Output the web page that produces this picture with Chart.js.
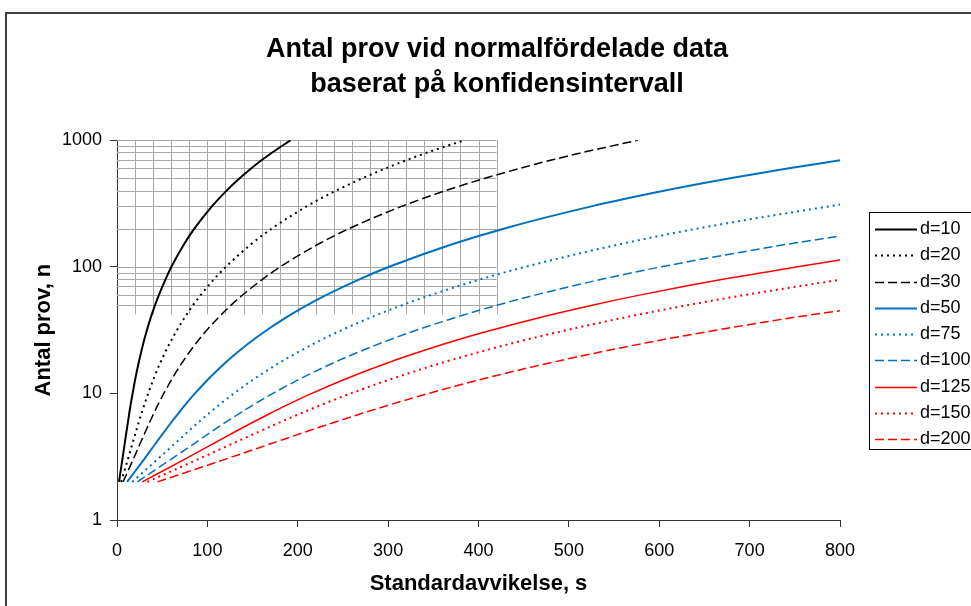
<!DOCTYPE html>
<html lang="sv">
<head>
<meta charset="UTF-8">
<title>Antal prov vid normalfördelade data</title>
<script src="https://cdn.jsdelivr.net/npm/chart.js"></script>
<style>
  html, body { margin: 0; padding: 0; background: #fff; overflow: hidden; }
  #ram { position: absolute; left: 5px; top: 12px; width: 1200px; height: 800px; border: 2px solid #404040; box-sizing: border-box; }
  #diagram { position: absolute; left: 0; top: 0; }
</style>
</head>
<body>
<div id="ram"></div>
<canvas id="diagram" width="994" height="606"></canvas>
<script>
// standardavvikelse s (x) och antal prov n (y) för varje d
const sD10  = [2.2, 5.9, 8.5, 10.5, 12.2, 13.6, 14.9, 17.3, 20.2, 23.6, 25.9, 29.2, 32.2, 37.5, 42.2, 46.4, 53.8, 60.2, 74.0, 85.6, 105.0, 121.3, 135.7, 148.7, 160.6, 171.8, 192.1];
const nD10  = [2, 3, 4, 5, 6, 7, 8, 10, 13, 17, 20, 25, 30, 40, 50, 60, 80, 100, 150, 200, 300, 400, 500, 600, 700, 800, 1000];
const sD20  = [4.5, 11.9, 17.0, 21.0, 24.3, 27.2, 29.9, 34.5, 40.5, 47.2, 51.7, 58.4, 64.5, 75.1, 84.3, 92.7, 107.5, 120.5, 148.0, 171.1, 209.9, 242.6, 271.4, 297.4, 321.3, 343.5, 384.2];
const nD20  = [2, 3, 4, 5, 6, 7, 8, 10, 13, 17, 20, 25, 30, 40, 50, 60, 80, 100, 150, 200, 300, 400, 500, 600, 700, 800, 1000];
const sD30  = [6.7, 17.8, 25.5, 31.5, 36.5, 40.9, 44.8, 51.8, 60.7, 70.9, 77.6, 87.7, 96.7, 112.6, 126.5, 139.1, 161.3, 180.7, 222.0, 256.7, 314.9, 363.9, 407.0, 446.1, 481.9, 515.3, 576.4];
const nD30  = [2, 3, 4, 5, 6, 7, 8, 10, 13, 17, 20, 25, 30, 40, 50, 60, 80, 100, 150, 200, 300, 400, 500, 600, 700, 800, 1000];
const sD50  = [11.2, 29.7, 42.5, 52.5, 60.8, 68.1, 74.7, 86.3, 101.2, 118.1, 129.4, 146.1, 161.2, 187.7, 210.9, 231.8, 268.8, 301.2, 370.0, 427.8, 524.9, 606.5, 678.4, 743.5, 800];
const nD50  = [2, 3, 4, 5, 6, 7, 8, 10, 13, 17, 20, 25, 30, 40, 50, 60, 80, 100, 150, 200, 300, 400, 500, 600, 694];
const sD75  = [16.8, 44.5, 63.8, 78.7, 91.2, 102.2, 112.0, 129.4, 151.7, 177.2, 194.0, 219.2, 241.8, 281.6, 316.3, 347.7, 403.1, 451.8, 555.0, 641.6, 787.3, 800];
const nD75  = [2, 3, 4, 5, 6, 7, 8, 10, 13, 17, 20, 25, 30, 40, 50, 60, 80, 100, 150, 200, 300, 310];
const sD100 = [22.4, 59.3, 85.0, 104.9, 121.6, 136.2, 149.3, 172.5, 202.3, 236.2, 258.7, 292.2, 322.4, 375.4, 421.7, 463.6, 537.5, 602.4, 740.0, 800];
const nD100 = [2, 3, 4, 5, 6, 7, 8, 10, 13, 17, 20, 25, 30, 40, 50, 60, 80, 100, 150, 175];
const sD125 = [28.0, 74.1, 106.3, 131.1, 152.0, 170.3, 186.6, 215.6, 252.9, 295.3, 323.4, 365.3, 403.0, 469.3, 527.1, 579.5, 671.9, 753.0, 800];
const nD125 = [2, 3, 4, 5, 6, 7, 8, 10, 13, 17, 20, 25, 30, 40, 50, 60, 80, 100, 113];
const sD150 = [33.6, 89.0, 127.5, 157.4, 182.4, 204.3, 224.0, 258.8, 303.5, 354.3, 388.1, 438.3, 483.6, 563.1, 632.6, 695.4, 800];
const nD150 = [2, 3, 4, 5, 6, 7, 8, 10, 13, 17, 20, 25, 30, 40, 50, 60, 79];
const sD200 = [44.8, 118.6, 170.0, 209.8, 243.2, 272.4, 298.6, 345.0, 404.6, 472.4, 517.4, 584.4, 644.8, 750.8, 800];
const nD200 = [2, 3, 4, 5, 6, 7, 8, 10, 13, 17, 20, 25, 30, 40, 45];

// axlar
const xTicks = [0, 100, 200, 300, 400, 500, 600, 700, 800];
const yTicks = [1, 10, 100, 1000];
const yTickLabels = ['1', '10', '100', '1000'];

// det gråa rutnätet uppe till vänster
const rutS = [20, 40, 60, 80, 100, 120, 140, 160, 180, 200, 220, 240, 260, 280, 300, 320, 340, 360, 380, 400, 420];
const rutN = [50, 60, 70, 80, 90, 100, 200, 300, 400, 500, 600, 700, 800, 900, 1000];
const rutNMin = 42;

const FONT = "'Liberation Sans', Arial, sans-serif";
Chart.defaults.font.family = FONT;
Chart.defaults.color = '#000';

const SVART = '#000000', BLA = '#0070C0', ROD = '#FF0000';
const HEL = [], PRICK = [2, 4], STRECK = [9, 4];

const serier = [
  { label: 'd=10',  s: sD10,  n: nD10,  color: SVART, dash: HEL,    width: 2 },
  { label: 'd=20',  s: sD20,  n: nD20,  color: SVART, dash: PRICK,  width: 2 },
  { label: 'd=30',  s: sD30,  n: nD30,  color: SVART, dash: STRECK, width: 1.5 },
  { label: 'd=50',  s: sD50,  n: nD50,  color: BLA,   dash: HEL,    width: 2 },
  { label: 'd=75',  s: sD75,  n: nD75,  color: BLA,   dash: PRICK,  width: 2 },
  { label: 'd=100', s: sD100, n: nD100, color: BLA,   dash: STRECK, width: 1.5 },
  { label: 'd=125', s: sD125, n: nD125, color: ROD,   dash: HEL,    width: 1.5 },
  { label: 'd=150', s: sD150, n: nD150, color: ROD,   dash: PRICK,  width: 2 },
  { label: 'd=200', s: sD200, n: nD200, color: ROD,   dash: STRECK, width: 1.5 }
];

const datasets = serier.map(r => ({
  label: r.label,
  data: r.s.map((s, i) => ({ x: s, y: r.n[i] })),
  borderColor: r.color,
  borderDash: r.dash,
  borderWidth: r.width,
  pointRadius: 0,
  fill: false,
  cubicInterpolationMode: 'monotone'
}));

const rutnat = {
  id: 'rutnat',
  beforeDatasetsDraw(chart) {
    const { ctx, scales: { x, y } } = chart;
    const x0 = x.getPixelForValue(0);
    const x1 = x.getPixelForValue(rutS[rutS.length - 1]);
    const y0 = y.getPixelForValue(rutN[rutN.length - 1]);
    const y1 = y.getPixelForValue(rutNMin);
    ctx.save();
    ctx.lineWidth = 1;
    ctx.strokeStyle = '#a8a8a8';
    ctx.beginPath();
    rutN.forEach(n => {
      const py = Math.round(y.getPixelForValue(n)) + 0.5;
      ctx.moveTo(x0, py);
      ctx.lineTo(x1, py);
    });
    rutS.forEach(s => {
      const px = Math.round(x.getPixelForValue(s)) + 0.5;
      ctx.moveTo(px, y0);
      ctx.lineTo(px, y1);
    });
    ctx.stroke();
    ctx.restore();
  }
};

// teckenförklaring med ram, linjeprov och text
const forklaring = {
  id: 'forklaring',
  afterDraw(chart) {
    const { ctx, chartArea } = chart;
    const left = chartArea.right + 29, top = 212, rad = 26.25;
    ctx.save();
    ctx.strokeStyle = '#000';
    ctx.lineWidth = 1;
    ctx.strokeRect(left + 0.5, top + 0.5, 200, 237);
    ctx.font = '18px ' + FONT;
    ctx.fillStyle = '#000';
    ctx.textBaseline = 'middle';
    chart.data.datasets.forEach((ds, i) => {
      const cy = Math.round(top + 17 + i * rad) + 0.5;
      ctx.beginPath();
      ctx.setLineDash(ds.borderDash);
      ctx.strokeStyle = ds.borderColor;
      ctx.lineWidth = ds.borderWidth;
      ctx.moveTo(left + 6, cy);
      ctx.lineTo(left + 48, cy);
      ctx.stroke();
      ctx.setLineDash([]);
      ctx.fillText(ds.label, left + 51, cy);
    });
    ctx.restore();
  }
};

new Chart(document.getElementById('diagram'), {
  type: 'line',
  data: { datasets },
  plugins: [rutnat, forklaring],
  options: {
    responsive: false,
    animation: false,
    plugins: {
      legend: { display: false },
      tooltip: { enabled: false },
      title: {
        display: true,
        text: ['Antal prov vid normalfördelade data', 'baserat på konfidensintervall'],
        font: { size: 27, weight: 'bold', lineHeight: 1.3 },
        color: '#000',
        padding: { top: 32, bottom: 38 }
      }
    },
    scales: {
      x: {
        type: 'linear',
        min: 0,
        max: 800,
        afterBuildTicks: a => { a.ticks = xTicks.map(v => ({ value: v })); },
        ticks: { font: { size: 18 }, padding: 13, maxRotation: 0, color: '#000' },
        grid: { drawOnChartArea: false, drawTicks: true, tickLength: 7, color: '#333' },
        border: { color: '#333', width: 1 },
        title: {
          display: true,
          text: 'Standardavvikelse, s',
          font: { size: 22, weight: 'bold' },
          padding: { top: 0, bottom: 9 }
        },
        afterFit: a => { a.height = 86; }
      },
      y: {
        type: 'logarithmic',
        min: 1,
        max: 1000,
        afterBuildTicks: a => { a.ticks = yTicks.map(v => ({ value: v })); },
        ticks: { font: { size: 18 }, padding: 8, color: '#000', callback: (v, i) => yTickLabels[i] },
        grid: { drawOnChartArea: false, drawTicks: true, tickLength: 7, color: '#333' },
        border: { color: '#333', width: 1 },
        title: {
          display: true,
          text: 'Antal prov, n',
          font: { size: 22, weight: 'bold' },
          padding: { top: 31, bottom: 0 }
        },
        afterFit: a => { a.width = 117; }
      },
      // tom axel till höger som ger plats åt teckenförklaringen
      hoger: {
        type: 'linear',
        position: 'right',
        display: true,
        grid: { display: false, drawTicks: false },
        ticks: { display: false },
        border: { display: false },
        afterFit: a => { a.width = 154; }
      }
    }
  }
});
</script>
</body>
</html>
